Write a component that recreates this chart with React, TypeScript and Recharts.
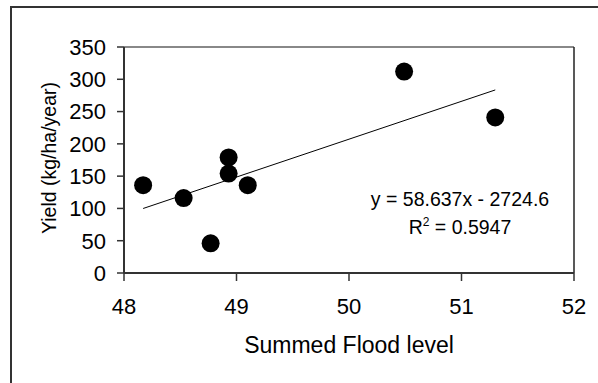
import { ScatterChart, Scatter, XAxis, YAxis, ReferenceLine, Customized } from 'recharts';

const floodLevel = [48.17, 48.53, 48.77, 48.93, 48.93, 49.1, 50.49, 51.3];
const yieldKg = [136, 116, 46, 179, 154, 136, 312, 241];
const xTicks = [48, 49, 50, 51, 52];
const yTicks = [0, 50, 100, 150, 200, 250, 300, 350];
// trendline endpoints (ends of the drawn line)
const trendX = [48.17, 51.3];
const trendY = [99.9, 283.5];
const equationText = 'y = 58.637x - 2724.6';
const rSquaredText = '0.5947';

const points = floodLevel.map((x, i) => ({ x, y: yieldKg[i] }));
const trend = trendX.map((x, i) => ({ x, y: trendY[i] }));

const font = 'Liberation Sans, Arial, sans-serif';

const Dot = (p: any) => <circle cx={p.cx} cy={p.cy} r={9} fill="#000" />;

const Equation = () => (
    <g fontFamily={font} fontSize={19.5} fill="#000" textAnchor="middle">
        <text x={460} y={206}>{equationText}</text>
        <text x={460} y={234}>
            R<tspan fontSize={12} dy={-8}>2</tspan>
            <tspan dy={8}> = {rSquaredText}</tspan>
        </text>
    </g>
);

const YTitle = () => (
    <text x={56} y={158} fontFamily={font} fontSize={19.5} fill="#000"
        textAnchor="middle" transform="rotate(-90, 56, 158)">
        Yield (kg/ha/year)
    </text>
);

const App = () => {
    return (
        <div style={{ position: 'absolute', left: 0, top: 0, width: 598, height: 383, background: '#fff' }}>
            <div style={{ position: 'absolute', left: 10, top: 6, right: -2, bottom: -2,
                borderTop: '2px solid #333', borderLeft: '2px solid #333' }} />
            <ScatterChart width={598} height={383}
                margin={{ top: 47, right: 24, left: 0, bottom: 0 }}
                style={{ position: 'absolute', left: 0, top: 0 }}>
                <XAxis type="number" dataKey="x" domain={[48, 52]} ticks={xTicks}
                    height={110} tickSize={8} tickMargin={17}
                    axisLine={{ stroke: '#333', strokeWidth: 2 }}
                    tickLine={{ stroke: '#333', strokeWidth: 1.5 }}
                    tick={{ fill: '#000', fontSize: 22, fontFamily: font }}
                    label={{ value: 'Summed Flood level', position: 'insideBottom', offset: 30,
                        fill: '#000', fontSize: 23, fontFamily: font }} />
                <YAxis type="number" dataKey="y" domain={[0, 350]} ticks={yTicks}
                    width={124} tickSize={7} tickMargin={11}
                    axisLine={{ stroke: '#333', strokeWidth: 2 }}
                    tickLine={{ stroke: '#333', strokeWidth: 1.5 }}
                    tick={{ fill: '#000', fontSize: 22, fontFamily: font }} />
                <ReferenceLine y={350} stroke="#888" strokeWidth={2} />
                <ReferenceLine x={52} stroke="#222" strokeWidth={1.5} />
                <ReferenceLine segment={[trend[0], trend[1]]} stroke="#000" strokeWidth={1} />
                <Scatter data={points} fill="#000" shape={Dot} isAnimationActive={false} />
                <Customized component={Equation} />
                <Customized component={YTitle} />
            </ScatterChart>
        </div>
    );
};

export default App;
